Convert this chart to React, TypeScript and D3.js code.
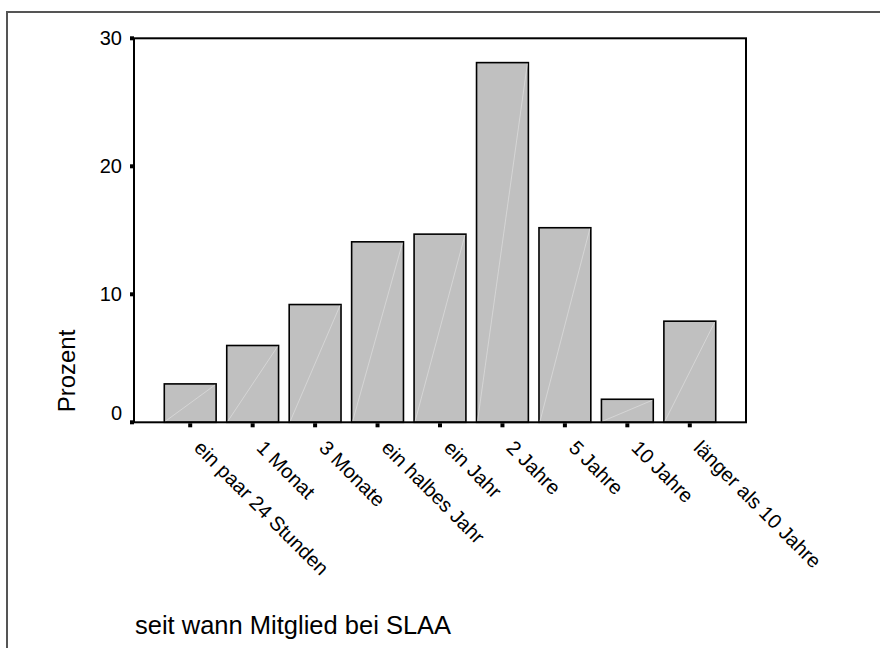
import React from "react";
import * as d3 from "d3";

const categories = [
  "ein paar 24 Stunden",
  "1 Monat",
  "3 Monate",
  "ein halbes Jahr",
  "ein Jahr",
  "2 Jahre",
  "5 Jahre",
  "10 Jahre",
  "länger als 10 Jahre",
];
const percents = [3.0, 6.0, 9.2, 14.1, 14.7, 28.1, 15.2, 1.8, 7.9];
const yTicks = [0, 10, 20, 30];
const yTitle = "Prozent";
const xTitle = "seit wann Mitglied bei SLAA";

export default function App() {
  const W = 880, H = 648;
  const left = 134, right = 746, top = 38.3, bottom = 422.3;
  const x = d3.scalePoint<string>().domain(categories).range([left, right]).padding(0.9);
  const y = d3.scaleLinear().domain([0, 30]).range([bottom, top]);
  const barW = x.step() * 0.83;
  const font = "Liberation Sans, Arial, sans-serif";
  return (
    <svg width={W} height={H} style={{ position: "absolute", left: 0, top: 0, display: "block", background: "#fff" }} fontFamily={font}>
      <path d={`M7,${H} L7,12 L${W},12`} fill="none" stroke="#555" strokeWidth={2} />
      {categories.map((c, i) => {
        const cx = x(c)!;
        const x0 = cx - barW / 2, x1 = cx + barW / 2;
        const yt = y(percents[i]);
        return (
          <g key={c}>
            <rect x={x0} y={yt} width={barW} height={bottom - yt} fill="#c0c0c0" stroke="#000" strokeWidth={1.6} />
            <line x1={x0 + 1} y1={bottom - 1} x2={x1 - 1} y2={yt + 1} stroke="#dedede" strokeWidth={0.7} />
          </g>
        );
      })}
      <rect x={left} y={top} width={right - left} height={bottom - top} fill="none" stroke="#000" strokeWidth={2} />
      {yTicks.map((t) => (
        <g key={t}>
          <rect x={left - 4} y={y(t) - 2} width={4} height={4} fill="#000" />
          <text x={left - 12} y={Math.min(y(t), bottom - 9)} textAnchor="end" dominantBaseline="central" fontSize={20}>{t}</text>
        </g>
      ))}
      {categories.map((c) => {
        const cx = x(c)!;
        return (
          <g key={"t" + c}>
            <rect x={cx - 2} y={bottom + 1} width={4} height={4} fill="#000" />
            <text transform={`translate(${cx},${bottom + 14}) rotate(45)`} x={11} y={0} dominantBaseline="central" fontSize={20}>{c}</text>
          </g>
        );
      })}
      <text transform={`translate(66,371) rotate(-90)`} textAnchor="middle" dominantBaseline="central" fontSize={24}>{yTitle}</text>
      <text x={135} y={634} fontSize={25.5}>{xTitle}</text>
    </svg>
  );
}
